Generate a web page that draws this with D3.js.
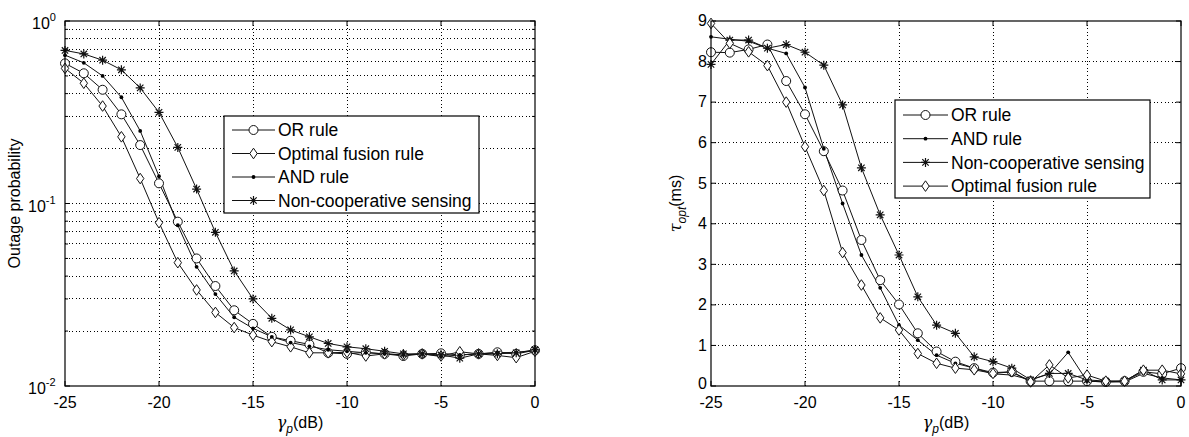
<!DOCTYPE html>
<html>
<head>
<meta charset="utf-8">
<script src="https://cdn.jsdelivr.net/npm/d3@7"></script>
<style>
    body { margin: 0; background: #fff; }
    svg text { font-family: "Liberation Sans", Arial, sans-serif; fill: #000; }
    .grid line { stroke: #000; stroke-width: 1; stroke-dasharray: 1,2.6; shape-rendering: crispEdges; }
    .curve { fill: none; stroke: #111; stroke-width: 1; }
    .mark { fill: none; stroke: #111; stroke-width: 1; }
    .frame { fill: none; stroke: #000; stroke-width: 1.2; }
</style>
</head>
<body>
<div id="chart"></div>
<script>
(function() {
    // x values (dB)
    var gammaDb = [-25, -24, -23, -22, -21, -20, -19, -18, -17, -16, -15, -14, -13,
                   -12, -11, -10, -9, -8, -7, -6, -5, -4, -3, -2, -1, 0];

    // left panel: outage probability
    var outOR = [0.586, 0.517, 0.42, 0.308, 0.209, 0.129, 0.0795, 0.05, 0.0353, 0.026, 0.0219, 0.0186, 0.0177,
                 0.0169, 0.0152, 0.015, 0.0153, 0.015, 0.0146, 0.015, 0.0151, 0.0148, 0.015, 0.0153, 0.015, 0.0157];
    var outOptimal = [0.55, 0.456, 0.342, 0.232, 0.137, 0.0785, 0.0474, 0.0336, 0.0253, 0.0209, 0.019, 0.0175, 0.0164,
                      0.0152, 0.0152, 0.0153, 0.0146, 0.015, 0.0148, 0.015, 0.0146, 0.0154, 0.015, 0.0147, 0.0143, 0.0155];
    var outAND = [0.65, 0.59, 0.5, 0.382, 0.25, 0.141, 0.076, 0.045, 0.0319, 0.0238, 0.0207, 0.0186, 0.0173,
                  0.0165, 0.0158, 0.0155, 0.0152, 0.015, 0.0148, 0.015, 0.0145, 0.0148, 0.015, 0.0152, 0.0153, 0.0156];
    var outNonCoop = [0.69, 0.66, 0.61, 0.54, 0.43, 0.316, 0.203, 0.12, 0.0695, 0.0427, 0.030, 0.0235, 0.0203,
                      0.0186, 0.0171, 0.0164, 0.016, 0.0155, 0.015, 0.015, 0.0148, 0.0142, 0.015, 0.015, 0.0152, 0.0158];

    // right panel: optimal sensing time (ms)
    var tauOR = [8.23, 8.22, 8.3, 8.42, 7.52, 6.7, 5.79, 4.82, 3.6, 2.61, 2.01, 1.3, 0.85,
                 0.6, 0.44, 0.33, 0.35, 0.12, 0.12, 0.12, 0.12, 0.1, 0.12, 0.35, 0.3, 0.44];
    var tauAND = [8.61, 8.55, 8.5, 8.33, 8.2, 7.36, 5.85, 4.5, 3.23, 2.42, 1.5, 1.13, 0.76,
                  0.56, 0.44, 0.3, 0.27, 0.15, 0.3, 0.83, 0.12, 0.1, 0.1, 0.31, 0.2, 0.15];
    var tauNonCoop = [7.93, 8.53, 8.53, 8.33, 8.42, 8.23, 7.91, 6.93, 5.38, 4.22, 3.23, 2.2, 1.5,
                      1.3, 0.72, 0.6, 0.44, 0.15, 0.31, 0.31, 0.15, 0.12, 0.12, 0.39, 0.15, 0.15];
    var tauOptimal = [8.94, 8.45, 8.24, 7.9, 7.0, 5.9, 4.82, 3.29, 2.49, 1.68, 1.38, 0.8, 0.56,
                      0.44, 0.4, 0.31, 0.35, 0.1, 0.52, 0.2, 0.27, 0.12, 0.12, 0.39, 0.39, 0.3];

    var xTicks = [-25, -20, -15, -10, -5, 0];
    var tauTicks = [0, 1, 2, 3, 4, 5, 6, 7, 8, 9];
    var outDecades = [1, 0.1, 0.01];
    var outExponents = ["0", "-1", "-2"];

    var leftSeries = [
        {name: "OR rule", values: outOR, marker: "circle"},
        {name: "Optimal fusion rule", values: outOptimal, marker: "diamond"},
        {name: "AND rule", values: outAND, marker: "dot"},
        {name: "Non-cooperative sensing", values: outNonCoop, marker: "star"}
    ];
    var rightSeries = [
        {name: "OR rule", values: tauOR, marker: "circle"},
        {name: "AND rule", values: tauAND, marker: "dot"},
        {name: "Non-cooperative sensing", values: tauNonCoop, marker: "star"},
        {name: "Optimal fusion rule", values: tauOptimal, marker: "diamond"}
    ];

    var W = 1189, H = 437;
    var top = 21, bottom = 386, plotW = 470;

    var svg = d3.select("#chart")
        .append("svg")
            .attr("width", W)
            .attr("height", H)
            .attr("xmlns", "http://www.w3.org/2000/svg");

    function drawMarker(g, type) {
        if (type == "circle") {
            g.append("circle").attr("r", 4.5).classed("mark", true).style("fill", "#fff");
        } else if (type == "diamond") {
            g.append("path").attr("d", "M0,-5.3L3.7,0L0,5.3L-3.7,0Z").classed("mark", true).style("fill", "#fff");
        } else if (type == "dot") {
            g.append("circle").attr("r", 1.9).style("fill", "#000");
        } else if (type == "star") {
            g.append("path")
                .attr("d", "M-4.5,0H4.5M0,-4.5V4.5M-3.2,-3.2L3.2,3.2M-3.2,3.2L3.2,-3.2")
                .classed("mark", true)
                .style("stroke-width", 1.2);
        }
    }

    function xLabel(g, cx) {
        var t = g.append("text")
            .attr("x", cx)
            .attr("y", 428)
            .attr("text-anchor", "middle")
            .style("font-size", "16px");
        t.append("tspan").style("font-style", "italic").style("font-family", "DejaVu Serif, serif").text("\u03b3");
        t.append("tspan").attr("dy", 5).style("font-size", "12px").style("font-style", "italic").text("p");
        t.append("tspan").attr("dy", -5).text("(dB)");
    }

    function drawPanel(opts) {
        var x = d3.scaleLinear().domain([-25, 0]).range([opts.left, opts.left + plotW]);
        var y = opts.y;
        var right = opts.left + plotW;
        var g = svg.append("g");

        // grid
        var grid = g.append("g").classed("grid", true);
        grid.selectAll(".gx")
            .data(xTicks.slice(1, -1))
            .enter()
            .append("line")
                .attr("x1", function(d) { return x(d); })
                .attr("x2", function(d) { return x(d); })
                .attr("y1", top)
                .attr("y2", bottom);
        grid.selectAll(".gy")
            .data(opts.gridY)
            .enter()
            .append("line")
                .attr("x1", opts.left)
                .attr("x2", right)
                .attr("y1", function(d) { return y(d); })
                .attr("y2", function(d) { return y(d); });

        // ticks (inside, on both sides)
        var ticks = g.append("g").style("stroke", "#000");
        xTicks.forEach(function(d) {
            ticks.append("line").attr("x1", x(d)).attr("x2", x(d)).attr("y1", bottom).attr("y2", bottom - 5);
            ticks.append("line").attr("x1", x(d)).attr("x2", x(d)).attr("y1", top).attr("y2", top + 5);
        });
        opts.tickY.forEach(function(d) {
            var len = opts.minorY && opts.minorY.indexOf(d) >= 0 ? 3 : 5;
            ticks.append("line").attr("x1", opts.left).attr("x2", opts.left + len).attr("y1", y(d)).attr("y2", y(d));
            ticks.append("line").attr("x1", right).attr("x2", right - len).attr("y1", y(d)).attr("y2", y(d));
        });

        // curves
        var line = d3.line()
            .x(function(d, i) { return x(gammaDb[i]); })
            .y(function(d) { return y(d); });

        opts.series.forEach(function(s) {
            g.append("path")
                .datum(s.values)
                .classed("curve", true)
                .attr("d", line);
        });
        opts.series.forEach(function(s) {
            g.append("g")
                .selectAll("g")
                .data(s.values)
                .enter()
                .append("g")
                    .attr("transform", function(d, i) {
                        return "translate(" + x(gammaDb[i]) + "," + y(d) + ")";
                    })
                    .each(function() { drawMarker(d3.select(this), s.marker); });
        });

        g.append("rect")
            .classed("frame", true)
            .attr("x", opts.left)
            .attr("y", top)
            .attr("width", plotW)
            .attr("height", bottom - top);

        // x tick labels
        g.append("g")
            .selectAll("text")
            .data(xTicks)
            .enter()
            .append("text")
                .attr("x", function(d) { return x(d); })
                .attr("y", 408)
                .attr("text-anchor", "middle")
                .style("font-size", "16px")
                .text(function(d) { return d; });

        xLabel(g, opts.left + plotW / 2);

        // legend
        var lg = g.append("g").attr("transform", "translate(" + opts.legend.x + "," + opts.legend.y + ")");
        lg.append("rect")
            .attr("width", opts.legend.w)
            .attr("height", opts.legend.h)
            .style("fill", "#fff")
            .style("stroke", "#000")
            .style("stroke-width", 1.2);
        var items = lg.selectAll(".item")
            .data(opts.series)
            .enter()
            .append("g")
                .attr("transform", function(d, i) {
                    return "translate(0," + (opts.legend.first + i * opts.legend.step) + ")";
                });
        items.append("line")
            .attr("x1", opts.legend.lx1)
            .attr("x2", opts.legend.lx2)
            .style("stroke", "#111");
        items.append("g")
            .attr("transform", "translate(" + (opts.legend.lx1 + opts.legend.lx2) / 2 + ",0)")
            .each(function(d) { drawMarker(d3.select(this), d.marker); });
        items.append("text")
            .attr("x", opts.legend.tx)
            .attr("dy", "0.36em")
            .style("font-size", "17.5px")
            .text(function(d) { return d.name; });

        return g;
    }

    // ---- left panel (log scale)
    var yOut = d3.scaleLog().domain([0.01, 1]).range([bottom, top]);
    var minorOut = [];
    [0.01, 0.1].forEach(function(dec) {
        [2, 3, 4, 5, 6, 7, 8, 9].forEach(function(m) { minorOut.push(+(dec * m).toFixed(3)); });
    });

    var left = drawPanel({
        left: 65,
        y: yOut,
        gridY: minorOut.concat([0.1]),
        tickY: minorOut.concat(outDecades),
        minorY: minorOut,
        series: leftSeries,
        legend: {x: 224, y: 116, w: 255, h: 97, first: 14, step: 23.5, lx1: 8, lx2: 51, tx: 54}
    });

    left.append("g")
        .selectAll("text")
        .data(outDecades)
        .enter()
        .append("text")
            .attr("y", function(d) { return yOut(d) + 8; })
            .attr("x", function(d, i) { return i == 0 ? 32 : 28; })
            .style("font-size", "16px")
            .each(function(d, i) {
                var t = d3.select(this);
                t.append("tspan").text("10");
                t.append("tspan")
                    .attr("dy", -8)
                    .style("font-size", "11px")
                    .text(outExponents[i]);
            });

    left.append("text")
        .attr("transform", "translate(20," + (top + bottom) / 2 + ") rotate(-90)")
        .attr("text-anchor", "middle")
        .style("font-size", "16px")
        .text("Outage probability");

    // ---- right panel (linear)
    var yTau = d3.scaleLinear().domain([0, 9]).range([bottom, top]);
    var right = drawPanel({
        left: 711,
        y: yTau,
        gridY: tauTicks.slice(1, -1),
        tickY: tauTicks,
        series: rightSeries,
        legend: {x: 895, y: 100, w: 255, h: 98, first: 15, step: 23.7, lx1: 8, lx2: 53, tx: 56}
    });

    right.append("g")
        .selectAll("text")
        .data(tauTicks)
        .enter()
        .append("text")
            .attr("x", 707)
            .attr("y", function(d) { return yTau(d) - (d == 0 ? 2 : 0); })
            .attr("dy", "0.33em")
            .attr("text-anchor", "end")
            .style("font-size", "16px")
            .text(function(d) { return d; });

    var tl = right.append("text")
        .attr("transform", "translate(681," + (top + bottom) / 2 + ") rotate(-90)")
        .attr("text-anchor", "middle")
        .style("font-size", "16px");
    tl.append("tspan").style("font-family", "DejaVu Serif, serif").style("font-style", "italic").text("\u03c4");
    tl.append("tspan").attr("dy", 5).style("font-size", "12px").style("font-style", "italic").text("opt");
    tl.append("tspan").attr("dy", -5).text("(ms)");
})()
</script>
</body>
</html>
